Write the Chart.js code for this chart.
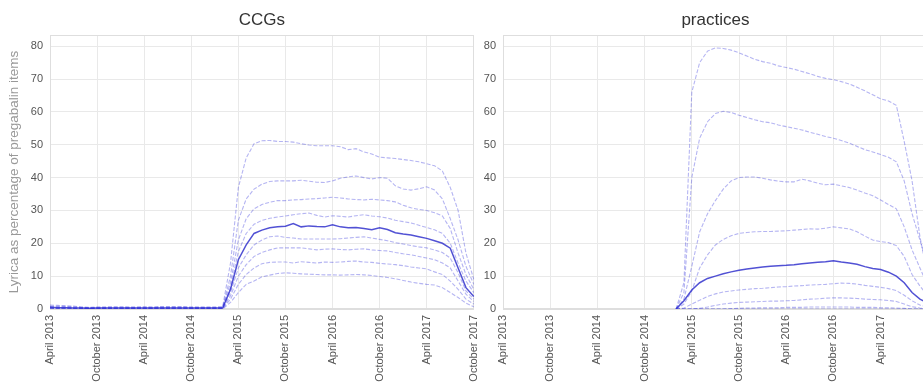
<!DOCTYPE html>
<html>
<head>
<meta charset="utf-8">
<script src="https://cdn.jsdelivr.net/npm/chart.js@4.4.1/dist/chart.umd.min.js"></script>
<style>
  html, body { margin:0; padding:0; background:#fff; overflow:hidden; width:923px; height:388px; }
  canvas { position:absolute; top:0; }
  #c1 { left:0; }
  #c2 { left:473px; }
</style>
</head>
<body>
<canvas id="c1" width="493" height="388"></canvas>
<canvas id="c2" width="474" height="388"></canvas>
<script>
// ---- tick labels / categories ----
const monthNames = ["January","February","March","April","May","June","July","August","September","October","November","December"];
const startYear = 2013, startMonth = 3, nMonths = 55; // April 2013 .. October 2017
const months = [];
for (let i = 0; i < nMonths; i++) {
  const m = startMonth + i;
  months.push(monthNames[m % 12] + " " + (startYear + Math.floor(m / 12)));
}
const yTicks = [0, 10, 20, 30, 40, 50, 60, 70, 80];
const percentiles = [90, 80, 70, 60, 40, 30, 20, 10, 50];

// ---- CCG deciles (April 2013 .. October 2017) ----
const ccg90 = [1.2,1.1,1.0,0.9,0.6,0.5,0.6,0.6,0.7,0.7,0.6,0.6,0.7,0.6,0.7,0.7,0.7,0.7,0.6,0.6,0.6,0.6,
  0.7,14,37,46,50.3,51.2,51.3,51,51,50.8,50.3,49.9,49.7,49.7,49.7,49.4,48.5,48.8,47.8,47.2,46.2,46,45.8,45.5,45.2,44.8,44.2,43.6,42,37,30,17,9];
const ccg80 = [0.9,0.8,0.8,0.7,0.5,0.4,0.5,0.5,0.5,0.5,0.5,0.5,0.5,0.5,0.6,0.6,0.6,0.6,0.5,0.5,0.5,0.5,
  0.5,10,27,33.5,36.5,38,38.8,39,39,39,39.2,38.9,38.6,38.5,39,39.8,40.2,40.5,40,39.6,40,39.8,37.5,36.5,36.2,36.6,37.2,36.2,33.5,27.5,21,13,7.5];
const ccg70 = [0.7,0.6,0.6,0.5,0.4,0.3,0.4,0.4,0.4,0.4,0.4,0.4,0.4,0.4,0.5,0.5,0.5,0.5,0.4,0.4,0.4,0.4,
  0.4,8,21,27.5,30.5,31.8,32.5,33,33,33.2,33.3,33.5,33.6,33.8,34,33.8,33.5,33.3,33.2,33.4,33.2,33,32.6,31.6,30.8,30.3,30,29.3,28.3,24.5,17,10.5,6];
const ccg60 = [0.6,0.5,0.5,0.4,0.3,0.3,0.3,0.3,0.3,0.3,0.3,0.3,0.3,0.3,0.4,0.4,0.4,0.4,0.3,0.3,0.3,0.3,
  0.3,6.5,17.5,23,25.8,27,27.6,28,28.3,28.7,29,29.2,28.5,28,28.4,28.2,28,28.4,28.7,28.3,28.1,27.7,27,26.6,26.2,25.5,24.8,24.1,23,20,14,8.5,5];
const ccg50 = [0.5,0.4,0.4,0.3,0.3,0.2,0.3,0.3,0.3,0.3,0.3,0.3,0.3,0.3,0.3,0.3,0.3,0.3,0.3,0.3,0.3,0.3,
  0.3,6,15,19.5,23,24,24.7,25,25.2,26,25,25.3,25.1,25,25.6,25,24.7,24.8,24.5,24.1,24.7,24.2,23.2,22.8,22.5,22,21.5,20.8,20,18.5,12.5,6.5,3.8];
const ccg40 = [0.4,0.3,0.3,0.2,0.2,0.2,0.2,0.2,0.2,0.2,0.2,0.2,0.2,0.2,0.2,0.2,0.2,0.2,0.2,0.2,0.2,0.2,
  0.2,5,12.5,16.5,19.5,21,22,22.2,21.8,21.6,21.3,21.3,21.3,21.3,21.3,21.4,21.6,21.8,22,21.6,21.2,20.8,20.2,19.8,19.3,18.9,18.6,18,17.2,15.5,11,5.5,3];
const ccg30 = [0.3,0.2,0.2,0.2,0.1,0.1,0.1,0.1,0.1,0.1,0.1,0.1,0.1,0.1,0.2,0.2,0.2,0.2,0.1,0.1,0.1,0.1,
  0.1,4,10,13.5,16,17.2,18,18.6,18.6,18.6,18.6,18.3,18,18.2,18.3,18.1,18,18.2,18.3,18,17.8,17.7,17.2,16.8,16.5,16,15.5,15,14,12.5,8.5,4.5,2.3];
const ccg20 = [0.2,0.1,0.1,0.1,0.1,0.1,0.1,0.1,0.1,0.1,0.1,0.1,0.1,0.1,0.1,0.1,0.1,0.1,0.1,0.1,0.1,0.1,
  0.1,3,7.5,10.5,12.5,13.8,14.2,14.3,14.3,14,14.4,14.2,14,14.3,14.2,14.3,14.5,14.6,14.3,14.2,13.9,13.7,13.5,13.2,12.8,12.5,12.2,11.3,10.5,8.5,6,3,1.5];
const ccg10 = [0.1,0,0,0,0,0,0,0,0,0,0,0,0,0,0,0,0,0,0,0,0,0,
  0,2,5,7.5,8.5,9.8,10.3,10.8,11,10.9,10.7,10.6,10.5,10.4,10.4,10.3,10.4,10.5,10.4,10.2,9.9,9.6,9.2,8.7,8.2,7.8,7.5,7.3,6.5,5,3.5,1.8,0.7];

// ---- practice deciles (no data before February 2015) ----
const N = null;
const pr90 = [N,N,N,N,N,N,N,N,N,N,N,N,N,N,N,N,N,N,N,N,N,N,
  0,8,66,75,78.5,79.5,79.3,78.8,78,77,76,75.3,74.8,74,73.5,73,72.3,71.6,70.8,70.2,69.8,69.2,68.5,67.5,66.4,65.2,64,63.3,62,51,39,22,10];
const pr80 = [N,N,N,N,N,N,N,N,N,N,N,N,N,N,N,N,N,N,N,N,N,N,
  0,5,40,52,57,59.5,60.2,59.8,59,58.3,57.6,57,56.7,56,55.5,55,54.5,53.8,53.2,52.5,52,51.3,50.5,49.5,48.5,47.8,47,46.2,44.8,39,29,21,13];
const pr70 = [N,N,N,N,N,N,N,N,N,N,N,N,N,N,N,N,N,N,N,N,N,N,
  0,3,13,23.5,29,33,36.5,39,40,40.2,40.2,39.8,39.3,38.9,38.7,38.7,39.5,39,38.3,37.8,38,37.5,37,36.2,35.3,34.5,33.2,31.8,30.5,25,18,12.5,7];
const pr60 = [N,N,N,N,N,N,N,N,N,N,N,N,N,N,N,N,N,N,N,N,N,N,
  0,1.5,5.5,12.5,16.5,19.5,21.2,22.3,23,23.3,23.5,23.6,23.6,23.7,23.8,24,24.2,24.4,24.3,24.6,25,24.7,24.4,23.5,22.2,21,20.5,20.2,19.3,16,10.5,7,4];
const pr50 = [N,N,N,N,N,N,N,N,N,N,N,N,N,N,N,N,N,N,N,N,N,N,
  0,2.5,5.8,8,9.3,10,10.7,11.3,11.8,12.2,12.5,12.8,13,13.2,13.3,13.5,13.8,14,14.2,14.4,14.7,14.3,14,13.6,12.9,12.3,12,11.2,10,8,5,3,1.8];
const pr40 = [N,N,N,N,N,N,N,N,N,N,N,N,N,N,N,N,N,N,N,N,N,N,
  0,0.3,1.5,2.7,3.8,4.6,5.2,5.5,5.8,6,6.2,6.3,6.5,6.7,6.8,7,7.1,7.3,7.4,7.5,7.7,7.9,7.8,7.6,7.2,6.9,6.6,6.2,5.6,4.2,2.5,1.2,0.6];
const pr30 = [N,N,N,N,N,N,N,N,N,N,N,N,N,N,N,N,N,N,N,N,N,N,
  0,0,0,0.2,0.6,1.1,1.5,1.8,2,2.1,2.2,2.3,2.4,2.4,2.5,2.6,2.8,3,3.1,3.3,3.4,3.4,3.3,3.2,3,2.9,2.8,2.6,2.3,1.5,0.7,0.3,0.1];
const pr20 = [N,N,N,N,N,N,N,N,N,N,N,N,N,N,N,N,N,N,N,N,N,N,
  0,0,0,0,0,0,0,0.1,0.2,0.3,0.3,0.4,0.4,0.4,0.5,0.5,0.5,0.6,0.6,0.6,0.6,0.6,0.6,0.5,0.5,0.5,0.4,0.4,0.3,0.2,0,0,0];
const pr10 = [N,N,N,N,N,N,N,N,N,N,N,N,N,N,N,N,N,N,N,N,N,N,
  0,0,0,0,0,0,0,0,0,0,0,0,0,0,0,0,0,0,0,0,0,0,0,0,0,0,0,0,0,0,0,0,0];

const ccgSeries = {90:ccg90,80:ccg80,70:ccg70,60:ccg60,50:ccg50,40:ccg40,30:ccg30,20:ccg20,10:ccg10};
const prSeries  = {90:pr90,80:pr80,70:pr70,60:pr60,50:pr50,40:pr40,30:pr30,20:pr20,10:pr10};

const FONT = "'Liberation Sans', Arial, Helvetica, sans-serif";
const Y_MAX = 83.4;

const frame = {
  id: 'frame',
  beforeDatasetsDraw(chart) {
    const {ctx, chartArea: a} = chart;
    ctx.save();
    ctx.strokeStyle = '#dedede';
    ctx.lineWidth = 1;
    ctx.strokeRect(Math.round(a.left) + 0.5, Math.round(a.top) + 0.5,
                   Math.round(a.right - a.left) - 1, Math.round(a.bottom - a.top) - 1);
    ctx.restore();
  }
};

function makeChart(id, series, title, showYTitle, yWidth) {
  const datasets = percentiles.map(p => {
    const median = p === 50;
    return {
      label: p + 'th percentile',
      data: series[p],
      borderColor: median ? 'rgba(50,50,205,0.85)' : 'rgba(50,50,220,0.36)',
      borderWidth: median ? 1.5 : 1.1,
      borderDash: median ? [] : [4, 1.8],
      pointRadius: 0,
      tension: 0,
      fill: false
    };
  });
  return new Chart(document.getElementById(id), {
    type: 'line',
    data: { labels: months, datasets },
    options: {
      responsive: false,
      animation: false,
      devicePixelRatio: 1,
      layout: { padding: { left: 0, right: 7, top: 0, bottom: 0 } },
      plugins: {
        legend: { display: false },
        tooltip: { enabled: false },
        title: {
          display: true, text: title, fullSize: false,
          color: '#333', font: { family: FONT, size: 17, weight: 'normal', lineHeight: 1.2 },
          padding: { top: 10, bottom: 4.6 }
        }
      },
      scales: {
        x: {
          type: 'category',
          offset: false,
          grid: { color: '#e9e9e9', drawTicks: false, lineWidth: 1 },
          border: { color: '#dedede' },
          ticks: {
            autoSkip: false, maxRotation: 90, minRotation: 90, padding: 6,
            color: '#555', font: { family: FONT, size: 11 },
            callback: function(v, i) { return i % 6 === 0 ? this.getLabelForValue(v) : null; }
          },
          afterFit: s => { s.height = 79; }
        },
        y: {
          min: 0, max: Y_MAX,
          grid: { color: '#e9e9e9', drawTicks: false, lineWidth: 1 },
          border: { color: '#dedede' },
          afterBuildTicks: s => { s.ticks = yTicks.map(v => ({ value: v })); },
          ticks: { color: '#555', padding: 7, font: { family: FONT, size: 11 } },
          title: {
            display: showYTitle, text: 'Lyrica as percentage of pregabalin items',
            color: '#999', font: { family: FONT, size: 13.5 }, padding: { top: 6, bottom: 0 }
          },
          afterFit: s => { s.width = yWidth; }
        }
      }
    },
    plugins: [frame]
  });
}

makeChart('c1', ccgSeries, 'CCGs', true, 50);
makeChart('c2', prSeries, 'practices', false, 30);
</script>
</body>
</html>
